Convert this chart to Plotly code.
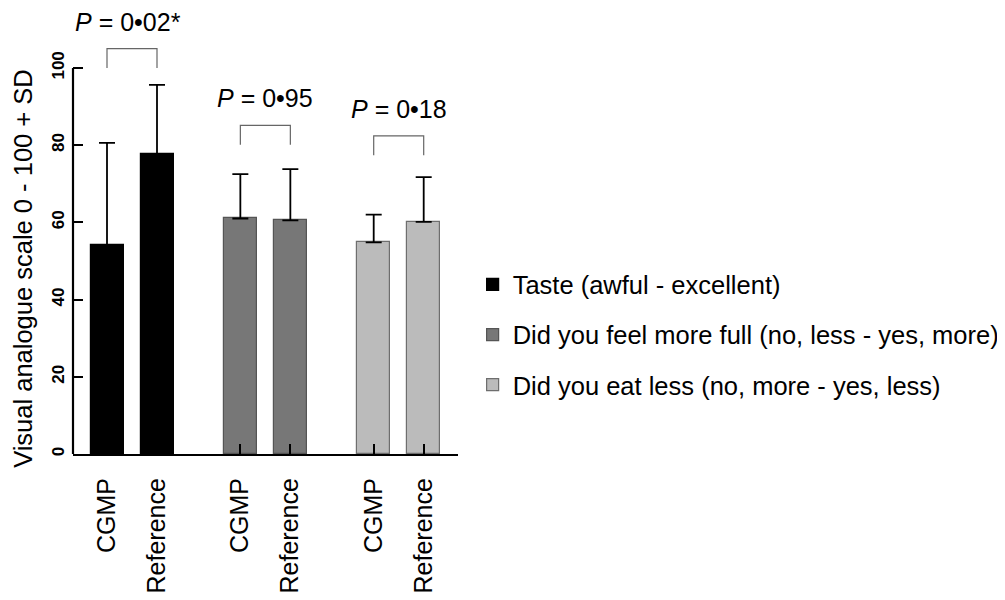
import plotly.graph_objects as go

# ---- data ----
questions = [
    "Taste (awful - excellent)",
    "Did you feel more full (no, less - yes, more)",
    "Did you eat less (no, more - yes, less)",
]
conditions = ["CGMP", "Reference"]
mean_taste = [54.1, 77.6]
mean_full = [61.0, 60.5]
mean_eat = [54.8, 60.1]
sd_taste = [26.5, 18.0]
sd_full = [11.5, 13.3]
sd_eat = [7.2, 11.6]
p_labels = ["0•02*", "0•95", "0•18"]
bracket_base = [100.0, 80.1, 77.4]
y_ticks = [0, 20, 40, 60, 80, 100]

means = [mean_taste, mean_full, mean_eat]
sds = [sd_taste, sd_full, sd_eat]
fills = ["#000000", "#777777", "#bbbbbb"]
outlines = ["#000000", "#555555", "#6e6e6e"]

GROUP_STEP = 2.667
FONT = "Liberation Sans, Arial, sans-serif"

fig = go.Figure()
xs_all, labels_all = [], []
for g, q in enumerate(questions):
    xs = [g * GROUP_STEP + i for i in range(len(conditions))]
    xs_all += xs
    labels_all += conditions
    fig.add_trace(go.Bar(
        x=xs, y=means[g], name=q, width=0.66,
        marker=dict(color=fills[g], line=dict(color=outlines[g], width=1.2)),
        error_y=dict(type="data", symmetric=False, array=sds[g],
                     arrayminus=[0] * len(sds[g]), color="#000000",
                     thickness=1.8, width=8),
        legendgroup=q,
    ))
    # significance bracket
    b = bracket_base[g]
    fig.add_shape(type="path",
                  path=f"M {xs[0]},{b} L {xs[0]},{b + 5} L {xs[1]},{b + 5} L {xs[1]},{b}",
                  xref="x", yref="y", line=dict(color="#666666", width=1.2))
    fig.add_annotation(x=(xs[0] + xs[1]) / 2, y=b + 12, xref="x", yref="y",
                       text=f"<i>P</i> = {p_labels[g]}", showarrow=False,
                       font=dict(family=FONT, size=25, color="#000000"),
                       xanchor="center", yanchor="middle",
                       xshift=-4 if p_labels[g].endswith("*") else 0)

# y axis line only from 0 to 100
fig.add_shape(type="line", xref="paper", yref="y", x0=0, x1=0,
              y0=0, y1=max(y_ticks), line=dict(color="#000000", width=2.2))

fig.add_annotation(text="Visual analogue scale 0 - 100 + SD", textangle=-90,
                   xref="paper", yref="y", x=-0.13, y=48.2, showarrow=False,
                   xanchor="center", yanchor="middle",
                   font=dict(family=FONT, size=25.5, color="#000000"))

fig.update_layout(
    width=1005, height=600,
    margin=dict(l=65, r=555, t=2, b=154, autoexpand=False),
    plot_bgcolor="white", paper_bgcolor="white",
    bargap=0,
    showlegend=True,
    legend=dict(x=1.038, y=0.434, xanchor="left", yanchor="top",
                font=dict(family=FONT, size=25.5, color="#000000"),
                tracegroupgap=14, bgcolor="rgba(0,0,0,0)"),
    xaxis=dict(range=[-0.68, 7.02], tickvals=xs_all, ticktext=labels_all,
               tickangle=-90, showline=True, linecolor="#000000", linewidth=2.2,
               ticks="inside", ticklen=10, tickwidth=1.8, tickcolor="#000000",
               tickfont=dict(family=FONT, size=25, color="#000000"),
               showgrid=False, zeroline=False, ticklabelstandoff=12,
               automargin=False),
    yaxis=dict(range=[0, 115], tickvals=y_ticks, tickangle=-90,
               showline=False, ticks="inside", ticklen=10, tickwidth=2,
               tickcolor="#000000",
               tickfont=dict(family=FONT, size=17, color="#000000", weight="bold"),
               showgrid=False, zeroline=False, automargin=False,
               ticklabelstandoff=5),
)

fig.write_html("out.html")
